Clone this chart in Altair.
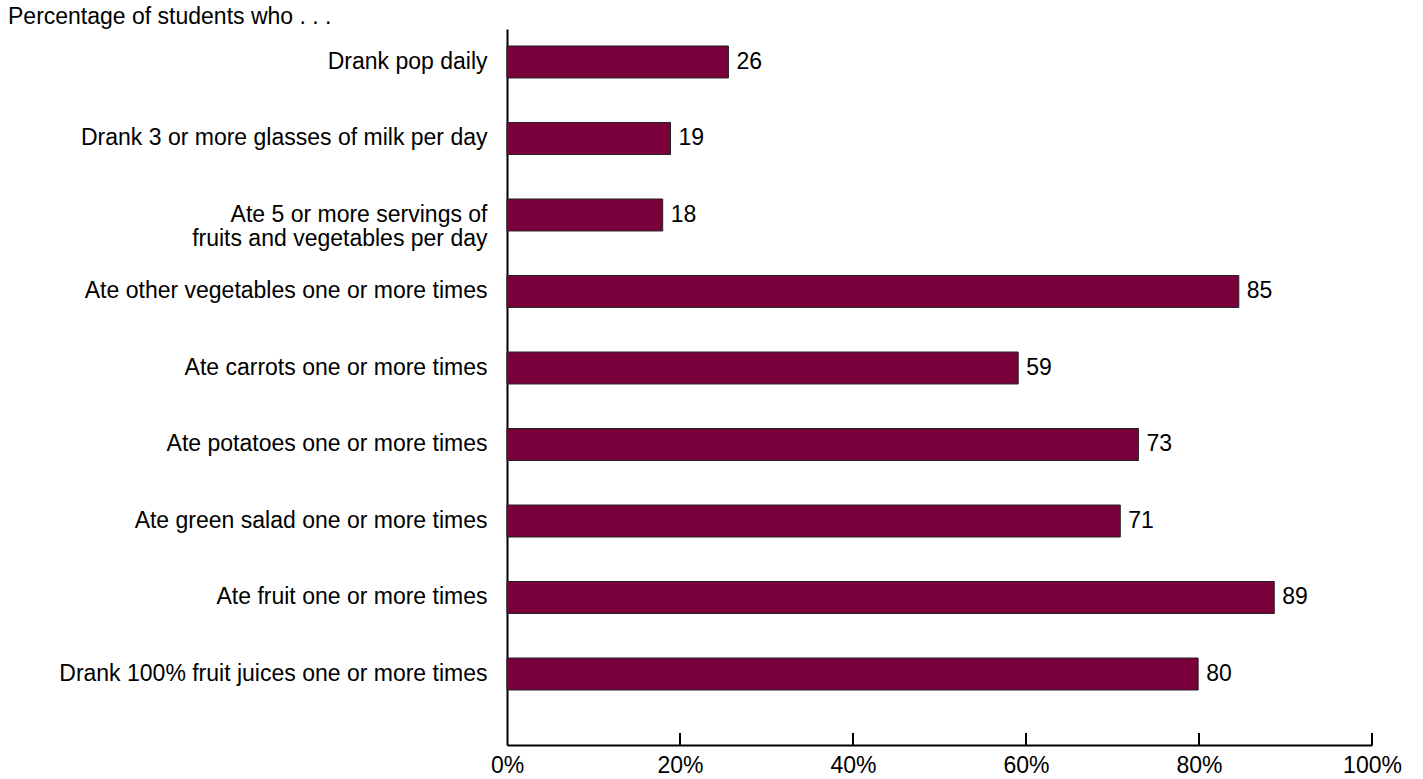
import altair as alt
import pandas as pd

title_text = ["Percentage of students who . . ."]
categories = [
    "Drank pop daily",
    "Drank 3 or more glasses of milk per day",
    "Ate 5 or more servings of|fruits and vegetables per day",
    "Ate other vegetables one or more times",
    "Ate carrots one or more times",
    "Ate potatoes one or more times",
    "Ate green salad one or more times",
    "Ate fruit one or more times",
    "Drank 100% fruit juices one or more times",
]
bar_values = [25.6, 18.9, 18.0, 84.6, 59.1, 73.0, 70.9, 88.7, 79.9]
value_labels = ["26", "19", "18", "85", "59", "73", "71", "89", "80"]
x_ticks = [0, 20, 40, 60, 80, 100]
up_ticks = [20, 40, 60, 80, 100]

df = pd.DataFrame({"cat": categories, "value": bar_values, "label": value_labels})
ticks_df = pd.DataFrame({"t": up_ticks})
title_df = pd.DataFrame({"t": title_text})

W, H = 865, 716
FONT = "Liberation Sans"
FS = 23

xscale = alt.Scale(domain=[0, 100], nice=False)
yscale = alt.Scale(paddingInner=0.582, paddingOuter=0.4706, align=0.236)

x_axis = alt.Axis(
    values=x_ticks, labelExpr="datum.value + '%'", ticks=False, grid=False,
    domainColor="black", domainWidth=2, labelFontSize=FS, labelColor="black",
    labelPadding=9, title=None, labelFont=FONT, labelFlush=False,
)
y_axis = alt.Axis(
    ticks=False, grid=False, domainColor="black", domainWidth=2,
    labelFontSize=FS, labelColor="black", labelPadding=20, labelLimit=0,
    labelExpr="split(datum.label, '|')", labelLineHeight=24, title=None,
    labelFont=FONT,
)

bars = alt.Chart(df).mark_bar(color="#7A003C", stroke="#222222", strokeWidth=1).encode(
    x=alt.X("value:Q", scale=xscale, axis=x_axis),
    y=alt.Y("cat:N", sort=categories, scale=yscale, axis=y_axis),
)

texts = alt.Chart(df).mark_text(
    align="left", baseline="middle", dx=8, fontSize=FS, color="black", font=FONT
).encode(
    x=alt.X("value:Q", scale=xscale),
    y=alt.Y("cat:N", sort=categories, scale=yscale),
    text="label:N",
)

ticks = alt.Chart(ticks_df).mark_rule(color="black", strokeWidth=2).encode(
    x=alt.X("t:Q", scale=xscale),
    y=alt.value(H),
    y2=alt.value(H - 12),
)

title = alt.Chart(title_df).mark_text(
    align="left", baseline="middle", fontSize=FS, color="black", font=FONT
).encode(
    x=alt.value(-499),
    y=alt.value(-12),
    text="t:N",
)

chart = alt.layer(bars, texts, ticks, title).properties(
    width=W, height=H,
    autosize=alt.AutoSizeParams(type="none"),
    padding={"left": 507, "top": 29, "right": 51, "bottom": 34},
).configure(font=FONT, view=alt.ViewConfig(stroke=None))

chart.save("out.html", embed_options={"renderer": "svg", "actions": False})
